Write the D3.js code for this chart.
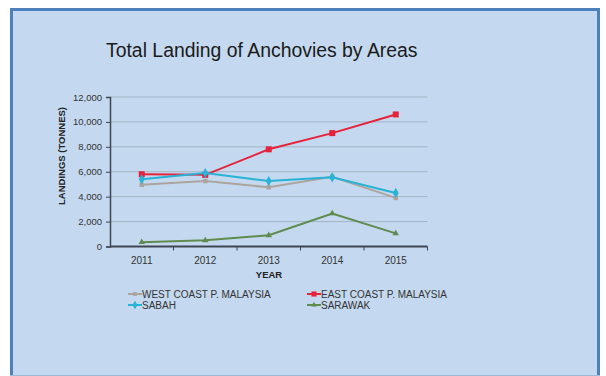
<!DOCTYPE html>
<html>
<head>
<meta charset="utf-8">
<script src="https://cdn.jsdelivr.net/npm/d3@7"></script>
<style>
  body { margin: 0; background: #fff; }
  svg { display: block; font-family: "Liberation Sans", Arial, sans-serif; }
</style>
</head>
<body>
<div id="chart"></div>
<script>
// data
const years = ["2011", "2012", "2013", "2014", "2015"];
const westCoast = [4950, 5250, 4750, 5600, 3900];
const eastCoast = [5800, 5750, 7800, 9100, 10600];
const sabah = [5400, 5900, 5250, 5550, 4300];
const sarawak = [350, 500, 900, 2650, 1050];
const yTicks = [0, 2000, 4000, 6000, 8000, 10000, 12000];

const series = [
    { name: "WEST COAST P. MALAYSIA", values: westCoast, color: "#aba59e", marker: "x" },
    { name: "EAST COAST P. MALAYSIA", values: eastCoast, color: "#e5223a", marker: "square" },
    { name: "SABAH", values: sabah, color: "#27b2d6", marker: "diamond" },
    { name: "SARAWAK", values: sarawak, color: "#5f8b4e", marker: "triangle" }
];

const width = 606, height = 376;
const svg = d3.select("#chart").append("svg")
    .attr("width", width)
    .attr("height", height);

// panel
svg.append("rect")
    .attr("x", 10).attr("y", 8)
    .attr("width", 590).attr("height", 367)
    .attr("fill", "#c4d9ef");
svg.append("path")
    .attr("d", "M11.5,375 V9.5 H598.5 V375")
    .attr("fill", "none")
    .attr("stroke", "#4f80be")
    .attr("stroke-width", 3);
svg.append("line")
    .attr("x1", 10).attr("x2", 600).attr("y1", 375.5).attr("y2", 375.5)
    .attr("stroke", "#9fb8d4");

svg.append("text")
    .attr("x", 106).attr("y", 57)
    .attr("font-size", 19.4)
    .attr("fill", "#1a1a1a")
    .text("Total Landing of Anchovies by Areas");

const x = d3.scaleBand().domain(years).range([110, 427.5]);
const y = d3.scaleLinear().domain([0, 12000]).range([246.5, 97]);

// gridlines
svg.append("g")
    .selectAll("line")
    .data(yTicks.slice(1))
    .join("line")
    .attr("x1", 110).attr("x2", 427.5)
    .attr("y1", d => y(d)).attr("y2", d => y(d))
    .attr("stroke", "#a3b3c4")
    .attr("stroke-width", 1);

// y axis
const yAxis = svg.append("g")
    .attr("transform", "translate(110,0)")
    .call(d3.axisLeft(y).tickValues(yTicks).tickFormat(d3.format(",")).tickSize(4).tickPadding(4));
yAxis.select(".domain").attr("stroke", "#3e4654").attr("stroke-width", 1.5);
yAxis.selectAll(".tick line").attr("stroke", "#3e4654");
yAxis.selectAll("text").attr("font-size", 9.5).attr("fill", "#333").attr("font-family", "Liberation Sans, Arial, sans-serif");

// x axis: ticks on band edges
const xAxisG = svg.append("g").attr("transform", `translate(0,${y(0)})`);
xAxisG.append("line")
    .attr("x1", 110).attr("x2", 427.5)
    .attr("stroke", "#3e4654").attr("stroke-width", 2);
xAxisG.selectAll(".edge")
    .data(years.slice(1).concat(["end"]))
    .join("line")
    .attr("class", "edge")
    .attr("x1", (d, i) => x(years[0]) + (i + 1) * x.step())
    .attr("x2", (d, i) => x(years[0]) + (i + 1) * x.step())
    .attr("y1", 0).attr("y2", 4)
    .attr("stroke", "#3e4654");
xAxisG.selectAll(".lbl")
    .data(years)
    .join("text")
    .attr("class", "lbl")
    .attr("x", d => x(d) + x.bandwidth() / 2)
    .attr("y", 17)
    .attr("text-anchor", "middle")
    .attr("font-size", 10)
    .attr("fill", "#333")
    .text(d => d);

svg.append("text")
    .attr("x", 269).attr("y", 277.5)
    .attr("text-anchor", "middle")
    .attr("font-size", 9.5)
    .attr("font-weight", "bold")
    .attr("fill", "#222")
    .text("YEAR");

svg.append("text")
    .attr("transform", "translate(65,156) rotate(-90)")
    .attr("text-anchor", "middle")
    .attr("font-size", 9.5)
    .attr("font-weight", "bold")
    .attr("fill", "#222")
    .text("LANDINGS  (TONNES)");

function drawMarker(g, type, color) {
    if (type === "square") {
        g.append("rect").attr("x", -3).attr("y", -3).attr("width", 6).attr("height", 6).attr("fill", color);
    } else if (type === "diamond") {
        g.append("path").attr("d", d3.symbol(d3.symbolDiamond, 30)()).attr("fill", color);
    } else if (type === "triangle") {
        g.append("path").attr("d", d3.symbol(d3.symbolTriangle, 18)()).attr("fill", color);
    } else {
        g.append("path").attr("d", d3.symbol(d3.symbolSquare, 20)()).attr("fill", color);
    }
}

const line = d3.line()
    .x((d, i) => x(years[i]) + x.bandwidth() / 2)
    .y(d => y(d));

series.forEach(s => {
    const g = svg.append("g");
    g.append("path")
        .attr("d", line(s.values))
        .attr("fill", "none")
        .attr("stroke", s.color)
        .attr("stroke-width", 2);
    s.values.forEach((v, i) => {
        const m = g.append("g").attr("transform", `translate(${x(years[i]) + x.bandwidth() / 2},${y(v)})`);
        drawMarker(m, s.marker, s.color);
    });
});

// legend
const legendPos = [[128, 294], [307, 294], [128, 305], [307, 305]];
series.forEach((s, i) => {
    const [lx, ly] = legendPos[i];
    const g = svg.append("g").attr("transform", `translate(${lx},${ly})`);
    g.append("line").attr("x1", 0).attr("x2", 14).attr("stroke", s.color).attr("stroke-width", 2);
    const m = g.append("g").attr("transform", "translate(7,0) scale(0.85)");
    drawMarker(m, s.marker, s.color);
    g.append("text")
        .attr("x", 14).attr("y", 3.6)
        .attr("font-size", 10)
        .attr("fill", "#333")
        .text(s.name);
});
</script>
</body>
</html>
